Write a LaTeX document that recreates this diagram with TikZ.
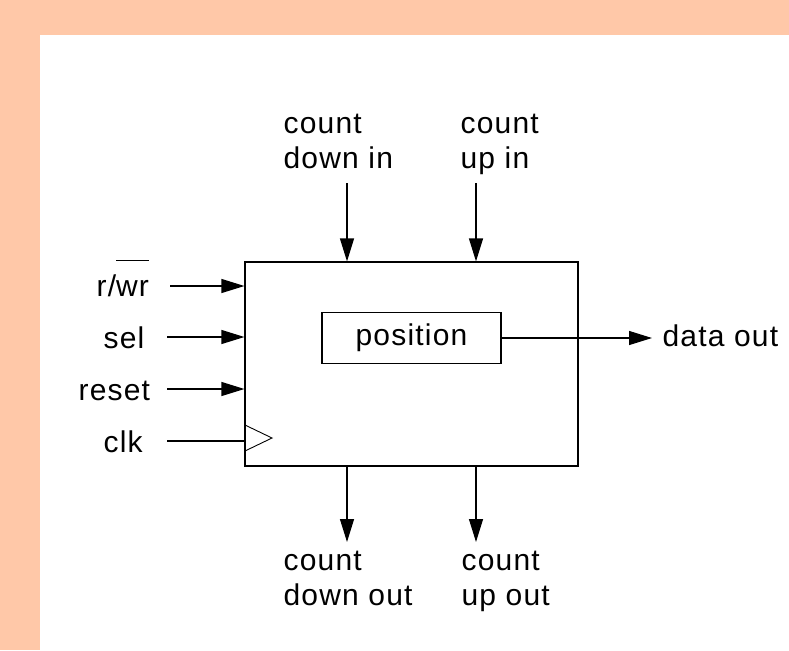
\documentclass[tikz,border=0pt]{standalone}
\usepackage{fontspec}
\setmainfont{Liberation Sans}[LetterSpace=4]
\usetikzlibrary{arrows.meta}
\definecolor{peach}{RGB}{255,200,168}
% bar drawn high above its argument (active-low signal name)
\newcommand\wrbar[1]{\setbox0\hbox{#1}\rlap{\rule[1.17em]{\wd0}{1.4pt}}\box0}
\begin{document}
\begin{tikzpicture}[x=1pt,y=-1pt,
  font=\fontsize{30}{35}\selectfont, line width=1.2pt,
  lbl/.style={inner sep=0pt, anchor=base west, align=left},
  sig/.style={-{Triangle[length=23pt,width=14pt]}}]
% page background
\fill[peach] (0,0) rectangle (789,650);
\fill[white] (40,35) rectangle (789,650);
\useasboundingbox (0,0) rectangle (789,650);

% counter block and its register
\node[draw, minimum width=333pt, minimum height=204pt, inner sep=0pt] (box) at (411.5,364) {};
\node[draw, minimum width=179pt, minimum height=51pt, inner sep=0pt] (pos) at (411.5,338) {position};

% left-hand inputs
\node[lbl] (lrw) at (96,296) {r/\wrbar{wr}};
\node[lbl] (lsel) at (103,348) {sel};
\node[lbl] (lreset) at (78,400) {reset};
\node[lbl] (lclk) at (103,452) {clk};
\coordinate (srw) at (170,286);
\coordinate (ssel) at (167,337);
\coordinate (sres) at (167,389);
\coordinate (sclk) at (167,441);
\draw[sig] (srw) -- (srw -| box.west);
\draw[sig] (ssel) -- (ssel -| box.west);
\draw[sig] (sres) -- (sres -| box.west);
\draw (sclk) -- (sclk -| box.west);
% clock marker
\draw[line width=0.9pt] (245,425) -- (272,438) -- (245,451);

% top inputs (base anchor sits on the last line)
\node[lbl] (cdi) at (283,168) {count\\down in};
\node[lbl] (cui) at (460,168) {count\\up in};
\coordinate (tdi) at (347,183);
\coordinate (tui) at (476,183);
\draw[sig] (tdi) -- (tdi |- box.north);
\draw[sig] (tui) -- (tui |- box.north);

% bottom outputs
\coordinate (bdo) at (347,542);
\coordinate (buo) at (476,542);
\draw[sig] (bdo |- box.south) -- (bdo);
\draw[sig] (buo |- box.south) -- (buo);
\node[lbl] (cdo) at (283,605) {count\\down out};
\node[lbl] (cuo) at (461,605) {count\\up out};

% data output
\coordinate (dtip) at (652,338);
\draw[sig] (pos.east) -- (dtip);
\node[lbl] (dout) at (662,346) {data out};
\end{tikzpicture}
\end{document}
